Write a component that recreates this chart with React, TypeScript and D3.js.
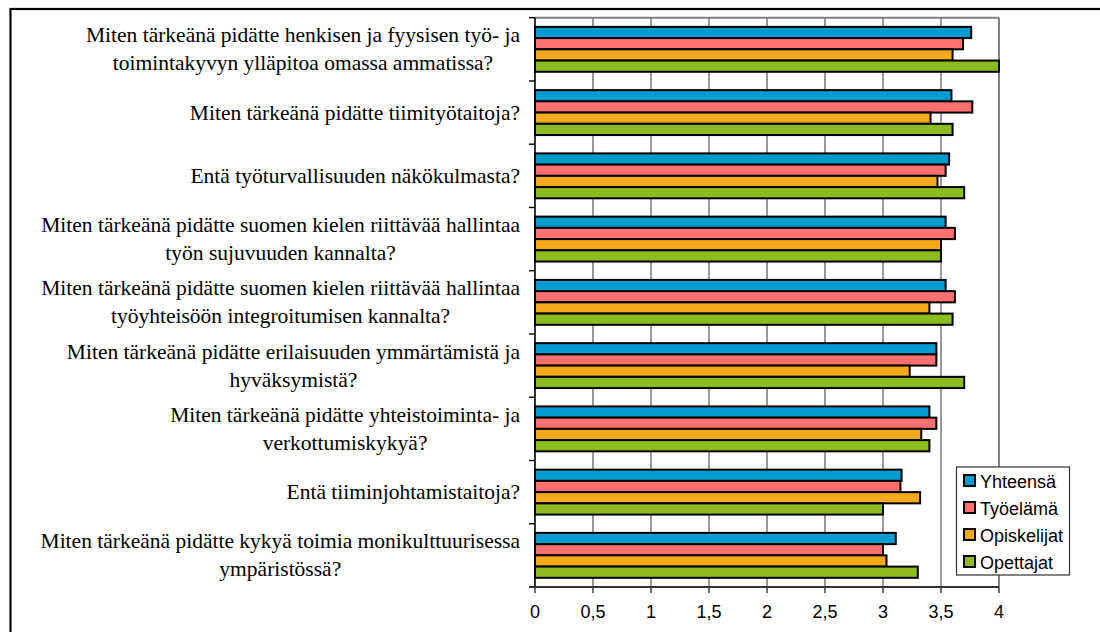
import React, { useEffect, useRef } from "react";
import * as d3 from "d3";

const categories: string[] = [
  "Miten tärkeänä pidätte henkisen ja fyysisen työ- ja\ntoimintakyvyn ylläpitoa omassa ammatissa?",
  "Miten tärkeänä pidätte tiimityötaitoja?",
  "Entä työturvallisuuden näkökulmasta?",
  "Miten tärkeänä pidätte suomen kielen riittävää hallintaa\ntyön sujuvuuden kannalta?",
  "Miten tärkeänä pidätte suomen kielen riittävää hallintaa\ntyöyhteisöön integroitumisen kannalta?",
  "Miten tärkeänä pidätte erilaisuuden ymmärtämistä ja\nhyväksymistä?",
  "Miten tärkeänä pidätte yhteistoiminta- ja\nverkottumiskykyä?",
  "Entä tiiminjohtamistaitoja?",
  "Miten tärkeänä pidätte kykyä toimia monikulttuurisessa\nympäristössä?",
];

const seriesNames: string[] = ["Yhteensä", "Työelämä", "Opiskelijat", "Opettajat"];
const seriesColors: string[] = ["#009BCF", "#FF7070", "#F5A81C", "#8DBA1E"];

const yhteensa: number[] = [3.76, 3.59, 3.57, 3.54, 3.54, 3.46, 3.4, 3.16, 3.11];
const tyoelama: number[] = [3.69, 3.77, 3.54, 3.62, 3.62, 3.46, 3.46, 3.15, 3.0];
const opiskelijat: number[] = [3.6, 3.41, 3.47, 3.5, 3.4, 3.23, 3.33, 3.32, 3.03];
const opettajat: number[] = [4.0, 3.6, 3.7, 3.5, 3.6, 3.7, 3.4, 3.0, 3.3];

const xTicks: number[] = [0, 0.5, 1, 1.5, 2, 2.5, 3, 3.5, 4];

export default function App() {
  const ref = useRef<SVGSVGElement>(null);

  useEffect(() => {
    document.body.style.margin = "0";
    const svg = d3.select(ref.current);
    svg.selectAll("*").remove();

    const W = 1100;
    const H = 632;
    const left = 535;
    const right = 999;
    const top = 17.7;
    const bottom = 587;

    const allSeries = [yhteensa, tyoelama, opiskelijat, opettajat];

    const x = d3.scaleLinear().domain([0, 4]).range([left, right]);
    const y = d3.scaleBand<number>().domain(d3.range(categories.length)).range([top, bottom]).paddingInner(0.29).paddingOuter(0.145);
    const ySub = d3.scaleBand<number>().domain(d3.range(seriesNames.length)).range([0, y.bandwidth()]);

    svg.append("rect").attr("x", 0).attr("y", 0).attr("width", W).attr("height", H).attr("fill", "#fff");

    // outer chart border
    svg.append("rect").attr("x", 10.5).attr("y", 9).attr("width", 1200).attr("height", 800)
      .attr("fill", "none").attr("stroke", "#000").attr("stroke-width", 2.2);

    // gridlines
    const step = (bottom - top) / categories.length;
    svg.append("g").selectAll("line").data(xTicks.slice(1)).join("line")
      .attr("x1", (d) => x(d)).attr("x2", (d) => x(d))
      .attr("y1", top).attr("y2", bottom)
      .attr("stroke", "#808080").attr("stroke-width", (d) => (d === 4 ? 2 : 1.6));
    // top border
    svg.append("line").attr("x1", left).attr("x2", right).attr("y1", top).attr("y2", top)
      .attr("stroke", "#808080").attr("stroke-width", 2);

    // bars
    const g = svg.append("g");
    categories.forEach((_, ci) => {
      allSeries.forEach((arr, si) => {
        g.append("rect")
          .attr("x", x(0))
          .attr("y", (y(ci) as number) + (ySub(si) as number))
          .attr("width", x(arr[ci]) - x(0))
          .attr("height", ySub.bandwidth())
          .attr("fill", seriesColors[si])
          .attr("stroke", "#000")
          .attr("stroke-width", 2);
      });
    });

    // y axis
    svg.append("line").attr("x1", left).attr("x2", left).attr("y1", top).attr("y2", bottom)
      .attr("stroke", "#000").attr("stroke-width", 1.6);
    svg.append("g").selectAll("line").data(d3.range(categories.length + 1)).join("line")
      .attr("x1", left - 6).attr("x2", left)
      .attr("y1", (d) => top + d * step).attr("y2", (d) => top + d * step)
      .attr("stroke", "#000").attr("stroke-width", 1.4);

    // x axis
    svg.append("line").attr("x1", left - 6).attr("x2", right).attr("y1", bottom).attr("y2", bottom)
      .attr("stroke", "#333").attr("stroke-width", 1.8);
    svg.append("g").selectAll("line").data(xTicks).join("line")
      .attr("x1", (d) => x(d)).attr("x2", (d) => x(d))
      .attr("y1", bottom).attr("y2", bottom + 6)
      .attr("stroke", "#333").attr("stroke-width", 1.4);
    svg.append("g").selectAll("text").data(xTicks).join("text")
      .attr("x", (d) => x(d)).attr("y", bottom + 31)
      .attr("text-anchor", "middle")
      .attr("font-family", "'Liberation Sans', Arial, sans-serif")
      .attr("font-size", 18)
      .attr("fill", "#000")
      .text((d) => String(d).replace(".", ","));

    // category labels: block right-aligned near the axis, lines centered within block
    const lineH = 28;
    categories.forEach((c, ci) => {
      const lines = c.split("\n");
      const cy = top + (ci + 0.5) * step;
      const t = svg.append("text")
        .attr("font-family", "'Liberation Serif', 'Times New Roman', serif")
        .attr("font-size", 21.5)
        .attr("fill", "#000")
        .attr("text-anchor", "middle");
      const spans = lines.map((ln, li) =>
        t.append("tspan")
          .attr("y", cy + (li - (lines.length - 1) / 2) * lineH + 7)
          .text(ln)
      );
      const w = d3.max(spans, (s) => (s.node() as SVGTSpanElement).getComputedTextLength()) || 0;
      const cx = 520 - w / 2;
      spans.forEach((s) => s.attr("x", cx));
    });

    // legend
    const lg = svg.append("g");
    lg.append("rect").attr("x", 956.5).attr("y", 467).attr("width", 113).attr("height", 108)
      .attr("fill", "#fff").attr("stroke", "#333").attr("stroke-width", 1.2);
    seriesNames.forEach((n, i) => {
      const cy = 481 + i * 27;
      lg.append("rect").attr("x", 964).attr("y", cy - 6).attr("width", 11).attr("height", 11)
        .attr("fill", seriesColors[i]).attr("stroke", "#000").attr("stroke-width", 2);
      lg.append("text").attr("x", 980).attr("y", cy + 6.5)
        .attr("font-family", "'Liberation Sans', Arial, sans-serif")
        .attr("font-size", 18).attr("fill", "#000").text(n);
    });
  }, []);

  return <svg ref={ref} width={1100} height={632} style={{ display: "block" }} />;
}
